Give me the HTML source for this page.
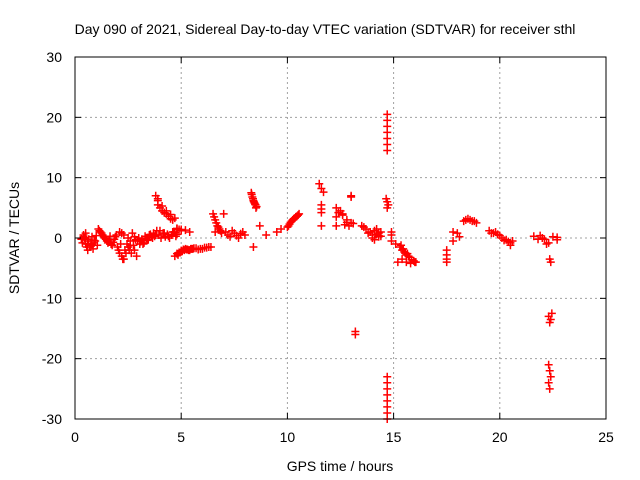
<!DOCTYPE html>
<html><head><meta charset="utf-8"><style>
body{margin:0;background:#fff}
svg{display:block;font-family:"Liberation Sans",sans-serif}
</style></head><body>
<svg id="c" width="640" height="480">
<text x="325" y="34" text-anchor="middle" font-size="14">Day 090 of 2021, Sidereal Day-to-day VTEC variation (SDTVAR) for receiver sthl</text>
<text x="340" y="471" text-anchor="middle" font-size="14">GPS time / hours</text>
<text transform="translate(19,238) rotate(-90)" text-anchor="middle" font-size="14">SDTVAR / TECUs</text>
<g id="grid"></g><g id="pts"></g><g id="axes"></g>
</svg>
<script>
const xTicks=[0,5,10,15,20,25];
const yTicks=[-30,-20,-10,0,10,20,30];
const hours=[0.3,0.4,0.5,0.5,0.6,0.7,0.8,0.9,1.0,0.6,0.8,1.1,1.2,1.3,1.4,1.5,1.6,1.7,1.8,1.9,2.0,2.1,2.2,2.2,2.3,2.4,2.5,2.1,2.3,2.5,2.6,2.7,2.8,2.9,2.6,2.8,3.0,3.1,3.2,3.3,3.4,3.5,3.6,3.7,3.8,3.9,3.8,3.9,4.0,4.1,4.2,4.3,4.4,4.5,4.6,4.7,4.8,4.0,4.2,4.4,4.6,4.8,4.9,5.0,4.7,4.8,4.9,5.0,5.1,5.2,5.3,5.4,5.5,5.6,5.8,6.0,6.2,6.4,4.8,5.0,5.2,5.4,6.5,6.6,6.7,6.8,6.6,6.9,7.0,7.1,7.3,7.5,7.7,7.9,8.0,8.3,8.35,8.4,8.45,8.5,8.55,8.4,8.7,9.0,9.5,9.7,10.0,10.1,10.2,10.3,10.4,10.5,11.5,11.6,11.7,11.6,11.6,11.6,11.6,12.3,12.3,12.3,12.5,12.6,12.8,13.0,12.7,12.9,13.0,13.0,13.2,13.2,13.5,13.7,13.9,14.0,14.1,14.2,14.3,14.4,14.7,14.7,14.7,14.7,14.7,14.7,14.7,14.65,14.7,14.75,14.7,14.7,14.7,14.7,14.7,14.7,14.7,14.7,14.7,14.9,14.9,14.9,15.1,15.3,15.4,15.5,15.6,15.7,15.2,15.4,15.6,15.8,16.0,17.5,17.5,17.5,17.5,17.8,17.8,18.0,18.1,18.3,18.5,18.7,18.9,19.5,19.7,19.9,20.1,20.3,20.5,20.6,21.6,21.8,22.0,22.2,22.3,22.35,22.4,22.45,22.3,22.35,22.4,22.3,22.35,22.4,22.35,22.5,22.7,22.8];
const values=[-0.2,0.5,-1.0,0.8,-0.5,-1.5,0.2,-0.8,0.4,-2.0,-1.2,1.5,1.0,0.5,0.0,-0.5,-0.3,-1.0,-0.7,0.2,-1.5,-2.5,-3.0,0.8,-3.5,-2.5,-1.5,1.0,0.5,0.0,-0.5,0.8,-2.0,-3.0,-1.2,0.2,0.0,-0.6,-1.0,0.3,-0.4,0.5,0.2,0.8,7.0,6.2,0.5,5.5,5.0,4.5,4.2,4.0,3.6,3.2,3.0,0.9,0.6,1.2,0.8,0.3,1.0,1.5,1.4,1.2,-3.0,-2.6,-2.4,-2.1,-1.9,-1.8,-1.9,-2.0,-1.8,-1.7,-1.9,-1.8,-1.6,-1.5,1.6,1.4,1.3,1.0,4.0,3.0,2.0,1.5,1.0,0.8,4.0,1.0,0.2,0.8,0.0,1.0,0.5,7.5,6.8,6.2,5.8,5.5,5.2,-1.5,2.0,0.5,1.0,1.5,1.8,2.3,2.8,3.2,3.5,3.8,9.0,8.2,7.6,5.5,4.8,4.2,2.0,5.0,3.5,2.0,4.5,3.8,3.0,2.5,2.2,2.0,7.0,6.8,-15.5,-16.0,2.0,1.5,1.0,0.5,1.2,0.6,0.2,1.0,20.5,19.5,18.5,17.5,16.5,15.5,14.5,6.5,6.0,5.5,5.0,-23,-24,-25,-26,-27,-28,-29,-30,1.0,0.5,-0.5,-1.0,-1.5,-2.0,-2.3,-2.8,-3.0,-4.0,-3.5,-4.0,-4.2,-4.0,-2.0,-2.8,-3.5,-4.0,1.0,-0.5,0.8,0.2,2.8,3.2,2.8,2.5,1.2,0.8,0.6,0.0,-0.3,-0.8,-0.5,0.3,-0.2,0.0,-1.0,-13.0,-14.0,-13.5,-12.5,-21,-22,-23,-24,-25,-4.0,-3.5,0.2,-0.3];
const hours2=[0.35,0.45,0.55,0.65,0.75,0.85,0.95,1.05, 0.4,0.6,0.9,
1.15,1.25,1.35,1.45,1.55,1.65,1.75,1.85,1.95,2.05,2.15,2.25,2.35,2.45,2.55,2.65,2.75,
2.85,2.95,3.05,3.15,3.25,3.35,3.45,3.55,3.65,3.75,3.85,3.95,4.05,4.15,4.25,4.35,4.45,4.55,4.65,4.75,
3.9,4.1,4.3,4.5,4.7,
4.85,4.95,5.05,5.15,5.25,5.35,5.45,5.55,5.7,5.9,6.1,6.3,
6.55,6.65,6.75,6.85,
7.2,7.4,7.6,7.8,
8.32,8.38,8.42,8.48,8.52,
10.05,10.15,10.25,10.35,10.45,10.55,
12.4,12.6,12.8,13.1,
13.6,13.8,14.0,14.2,14.3,14.4,14.1,14.3,
15.35,15.45,15.55,15.65,15.75,15.85,15.95,16.05,
18.4,18.6,18.8,
19.6,19.8,20.0,20.2,20.4,20.5,
22.1,22.3,21.9,22.7];
const values2=[-0.8,0.0,-1.5,-0.2,-1.0,-1.8,-0.5,-1.2, 0.2,-1.0,-0.4,
1.2,0.8,0.2,-0.2,-0.8,0.3,-1.2,-0.2,0.5,-2.0,-1.0,-3.5,-2.0,-1.0,-2.0,-2.5,-1.2,
-0.3,-0.5,-1.0,-0.2,-0.8,0.0,-0.3,0.6,0.0,0.3,1.2,0.5,0.0,0.8,0.2,0.6,0.0,0.5,1.0,0.3,
6.5,5.3,4.5,3.9,3.3,
-2.8,-2.4,-2.2,-2.0,-1.9,-2.0,-1.8,-1.8,-1.7,-1.8,-1.6,-1.5,
3.5,2.5,1.8,1.2,
0.5,1.2,0.4,0.7,
7.2,6.5,6.0,5.6,5.0,
2.0,2.6,3.0,3.3,3.6,4.0,
4.2,4.0,2.6,2.4,
1.8,0.8,0.0,1.5,0.8,0.3,-0.3,0.4,
-1.2,-1.8,-2.5,-2.6,-3.2,-3.6,-3.8,-4.0,
3.0,3.0,2.8,
0.8,1.0,0.4,-0.4,-0.6,-1.2,
-0.2,-0.8,0.4,0.1];
const X=h=>75+h*(531/25), Y=v=>238-v*(362/60);
const NS="http://www.w3.org/2000/svg";
function mk(t,a,p){const e=document.createElementNS(NS,t);for(const k in a)e.setAttribute(k,a[k]);p.appendChild(e);return e;}
const grid=document.getElementById('grid'),axes=document.getElementById('axes'),pts=document.getElementById('pts');
xTicks.forEach(t=>{
 const x=X(t);
 if(t>0&&t<25){const g=mk('line',{x1:x,x2:x,y1:57,y2:419,stroke:'#a0a0a0','stroke-dasharray':'2,3'},grid);
 
 }
 mk('line',{x1:x,x2:x,y1:419,y2:413,stroke:'#000'},axes);
 mk('line',{x1:x,x2:x,y1:57,y2:63,stroke:'#000'},axes);
 const l=mk('text',{x:x,y:442,'text-anchor':'middle','font-size':14},axes);l.textContent=t;
 
 
});
yTicks.forEach(t=>{
 const y=Y(t);
 if(t>-30&&t<30){const g=mk('line',{x1:75,x2:606,y1:y,y2:y,stroke:'#a0a0a0','stroke-dasharray':'2,3'},grid);
 
 }
 mk('line',{x1:75,x2:81,y1:y,y2:y,stroke:'#000'},axes);
 mk('line',{x1:606,x2:600,y1:y,y2:y,stroke:'#000'},axes);
 const l=mk('text',{x:62,y:y+5,'text-anchor':'end','font-size':14},axes);l.textContent=t;
 
 
});
const f=mk('rect',{x:75,y:57,width:531,height:362,fill:'none',stroke:'#000'},axes);


function plot(hs,vs){
 hs.forEach((h,i)=>{
  if(vs[i]===undefined)return;
  const x=X(h),y=Y(vs[i]);
  const p=mk('path',{d:`M${x-4},${y}h8M${x},${y-4}v8`,stroke:'#f00','stroke-width':1.5,fill:'none'},pts);
  
  
 });
}
plot(hours,values);
plot(hours2,values2);
</script>
</body></html>
